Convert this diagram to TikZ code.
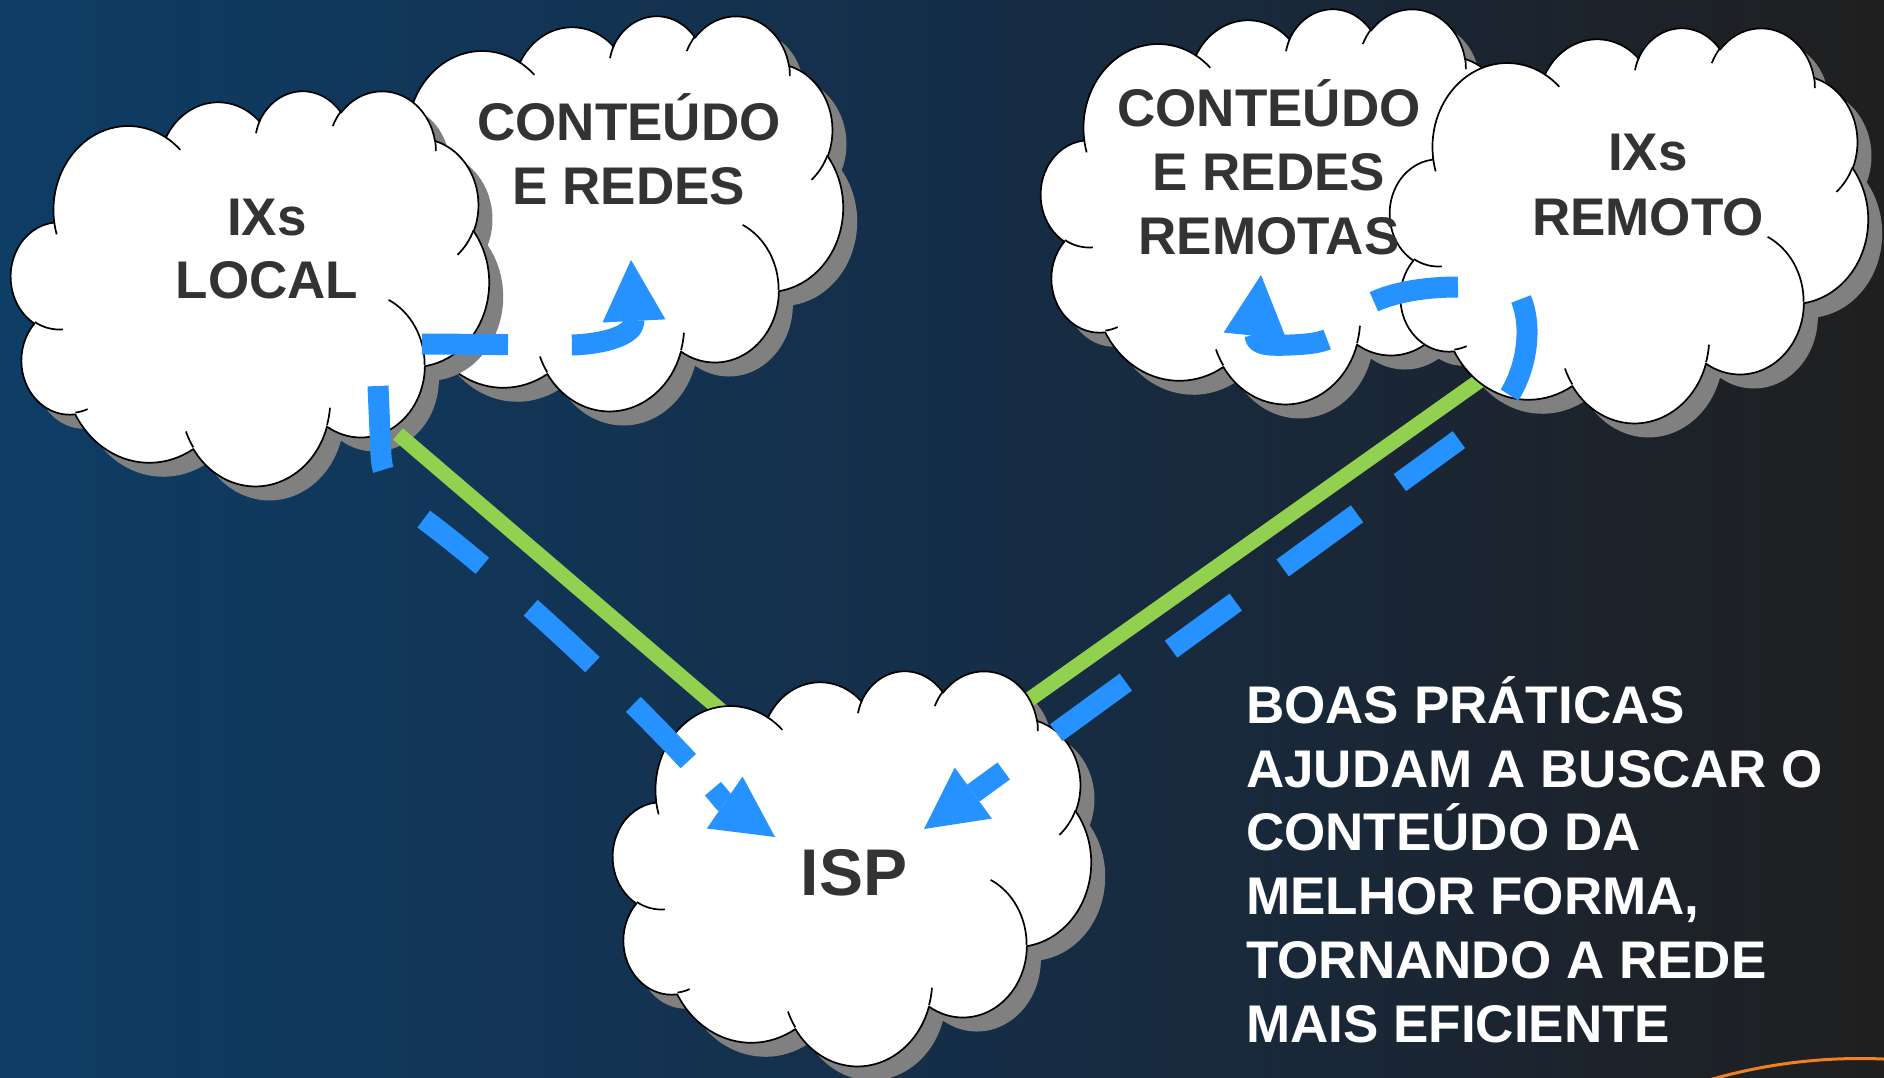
\documentclass[tikz,border=0pt]{standalone}
\usepackage{fontspec}
\setmainfont{Liberation Sans}
\usetikzlibrary{arrows.meta}

\definecolor{bgA}{RGB}{14,61,102}
\definecolor{bgB}{RGB}{21,46,72}
\definecolor{bgC}{RGB}{26,38,52}
\definecolor{bgD}{RGB}{31,31,31}
\definecolor{arrowblue}{RGB}{38,146,255}
\definecolor{linkgreen}{RGB}{146,208,80}
\definecolor{cshadow}{RGB}{128,128,128}
\definecolor{ctext}{RGB}{51,51,51}
\definecolor{orangearc}{RGB}{240,128,32}

\pgfdeclarehorizontalshading{bgshade}{100bp}{color(0bp)=(bgA); color(25bp)=(bgA); color(50bp)=(bgB); color(62.5bp)=(bgC); color(75bp)=(bgD); color(100bp)=(bgD)}

% elliptical arc, Office style: radii wR hR, visual start angle, sweep
\newcommand\oarc[4]{%
  \pgfmathparse{atan2((#1)*sin(#3),(#2)*cos(#3))}\let\cldS\pgfmathresult
  \pgfmathparse{atan2((#1)*sin((#3)+(#4)),(#2)*cos((#3)+(#4)))}\let\cldE\pgfmathresult
  \pgfmathparse{\cldE-\cldS}\let\cldD\pgfmathresult
  \pgfmathparse{ifthenelse((#4)>0, ifthenelse(\cldD<0,\cldD+360,\cldD), ifthenelse(\cldD>0,\cldD-360,\cldD))}\let\cldD\pgfmathresult
  \pgfmathparse{\cldS+\cldD}\let\cldE\pgfmathresult
  \pgfpatharcaxes{\cldS}{\cldE}{\pgfpointxy{#1}{0}}{\pgfpointxy{0}{#2}}%
}
\newcommand\cloudpathO{%
  \pgfpathmoveto{\pgfpointxy{3.900}{14.370}}%
  \oarc{6.753}{9.190}{-190.4875}{123.7805}%
  \oarc{5.333}{7.267}{-144.1024}{89.9452}%
  \oarc{4.365}{5.945}{-145.8079}{99.7230}%
  \oarc{4.857}{6.595}{-130.9861}{117.2417}%
  \oarc{5.333}{7.273}{-78.7089}{109.0269}%
  \oarc{6.775}{9.220}{-46.2673}{130.2690}%
  \oarc{5.785}{7.867}{0.6250}{114.0333}%
  \oarc{6.752}{9.215}{22.4516}{115.1726}%
  \oarc{7.720}{10.543}{66.2426}{75.7110}%
  \oarc{4.360}{5.918}{-274.9421}{146.7356}%
  \oarc{4.345}{5.945}{-246.8285}{152.5189}%
  \pgfpathclose}
\newcommand\cloudlinesO{%
  \pgfpathmoveto{\pgfpointxy{4.693}{26.177}}\oarc{4.345}{5.945}{86.7420}{26.4295}%
  \pgfpathmoveto{\pgfpointxy{6.928}{34.899}}\oarc{4.360}{5.918}{73.6105}{11.4475}%
  \pgfpathmoveto{\pgfpointxy{16.478}{39.090}}\oarc{6.752}{9.215}{137.6242}{14.0811}%
  \pgfpathmoveto{\pgfpointxy{28.827}{34.751}}\oarc{6.752}{9.215}{6.4533}{15.9984}%
  \pgfpathmoveto{\pgfpointxy{34.129}{22.954}}\oarc{5.785}{7.867}{-70.2924}{70.9174}%
  \pgfpathmoveto{\pgfpointxy{41.798}{15.354}}\oarc{5.333}{7.273}{30.3180}{27.7515}%
  \pgfpathmoveto{\pgfpointxy{38.324}{5.426}}\oarc{4.857}{6.595}{-13.7443}{14.8589}%
  \pgfpathmoveto{\pgfpointxy{29.078}{3.952}}\oarc{4.857}{6.595}{-149.1815}{18.1954}%
  \pgfpathmoveto{\pgfpointxy{22.141}{4.720}}\oarc{4.365}{5.945}{-163.4943}{17.6864}%
  \pgfpathmoveto{\pgfpointxy{14.000}{5.192}}\oarc{6.753}{9.190}{-66.7070}{12.3194}%
  \pgfpathmoveto{\pgfpointxy{4.127}{15.789}}\oarc{6.753}{9.190}{157.6544}{11.8582}%
}
\newcommand\cloudshadow[2]{%
  \begin{scope}[shift={(#1+14,#2+14)},x=11.0648pt,y=-9.1435pt]
    \pgfsetfillcolor{cshadow}\cloudpathO\pgfusepath{fill}
  \end{scope}}
\newcommand\cloudbody[2]{%
  \begin{scope}[shift={(#1,#2)},x=11.0648pt,y=-9.1435pt]
    \pgfsetfillcolor{white}\pgfsetstrokecolor{black}\pgfsetlinewidth{1.7pt}\pgfsetroundjoin
    \cloudpathO\pgfusepath{fill,stroke}
    \cloudlinesO\pgfusepath{stroke}
  \end{scope}}

\begin{document}
\begin{tikzpicture}[x=1pt,y=-1pt,
  blueflow/.style={draw=arrowblue, line width=21pt, line join=round,
    -{Triangle[length=61pt,width=63pt,line width=0pt]}},
  linkline/.style={draw=linkgreen, line width=15pt},
  cloudtext/.style={font=\fontsize{53}{64}\selectfont\bfseries, text=ctext, inner sep=0pt, anchor=base},
  bigcloudtext/.style={font=\fontsize{66}{78}\selectfont\bfseries, text=ctext, inner sep=0pt, anchor=base},
  notetext/.style={font=\fontsize{53}{64}\selectfont\bfseries, text=white, inner sep=0pt, anchor=base west}]
\useasboundingbox (0,0) rectangle (1884,1078);
\shade[shading=bgshade] (0,0) rectangle (1884,1078);

% decorative arc
\begin{scope}
  \clip (0,0) rectangle (1884,1078);
  \draw[orangearc, line width=3pt] (1860,1598.5) ++(-108:540) arc[start angle=-108, end angle=-80, radius=540];
\end{scope}

% back clouds
\cloudshadow{365}{15}\cloudbody{365}{15}
\cloudshadow{1041}{8}\cloudbody{1041}{8}
\cloudshadow{11}{90}
\cloudshadow{1390}{27}
\cloudshadow{613}{670}

% green links
\coordinate (g1a) at (398,434);
\coordinate (g1b) at (725,714);
\coordinate (g2a) at (1489,374);
\coordinate (g2b) at (1023,704);
\draw[linkline] (g1a) -- (g1b);
\draw[linkline] (g2a) -- (g2b);

% front clouds
\cloudbody{11}{90}
\cloudbody{1390}{27}
\cloudbody{613}{670}

% blue flow arrows
\coordinate (t0) at (422,344);
\coordinate (t1) at (631,260);
\draw[blueflow, dash pattern=on 86pt off 64pt on 400pt]
  (t0) -- (572,345) .. controls (605,344) and (634,335) .. (634,321) -- (t1);

\coordinate (l0) at (378,386);
\coordinate (l1) at (775,837);
\draw[blueflow, dash pattern=on 84pt off 65pt on 75pt off 64pt on 84pt off 57pt on 79pt off 37pt on 200pt]
  (l0) -- (381,455) .. controls (382,482) and (398,500) .. (425,520)
  .. controls (525,595) and (670,735) .. (724,802) -- (l1);

\coordinate (r0) at (1458,287);
\coordinate (r1) at (1261,275);
\draw[blueflow, dash pattern=on 86pt off 61pt on 300pt]
  (r0) .. controls (1405,287) and (1360,300) .. (1345,325)
  .. controls (1335,340) and (1320,344) .. (1290,345)
  .. controls (1268,346) and (1255,345) .. (1255,335) -- (r1);

\coordinate (s0) at (1521,299);
\coordinate (s1) at (924,829);
\draw[blueflow, dash pattern=on 100pt off 68pt on 73pt off 53pt on 92pt off 58pt on 80pt off 56pt on 86pt off 65pt on 200pt]
  (s0) .. controls (1536,335) and (1522,393) .. (1490,417) -- (s1);

% cloud labels
\node[cloudtext] (ixl1) at (267,235.5) {IXs};
\node[cloudtext] (ixl2) at (267,298.5) {LOCAL};
\node[cloudtext] (cr1) at (629,141) {CONTEÚDO};
\node[cloudtext] (cr2) at (629,204.5) {E REDES};
\node[cloudtext] (crr1) at (1269,126.5) {CONTEÚDO};
\node[cloudtext] (crr2) at (1269,190.5) {E REDES};
\node[cloudtext] (crr3) at (1269,254) {REMOTAS};
\node[cloudtext] (ixr1) at (1648,171) {IXs};
\node[cloudtext] (ixr2) at (1648,235) {REMOTO};
\node[bigcloudtext] (isp) at (854,895.5) {ISP};

% note
\node[notetext] (n1) at (1246,723) {BOAS PRÁTICAS};
\node[notetext] (n2) at (1246,787) {AJUDAM A BUSCAR O};
\node[notetext] (n3) at (1246,850) {CONTEÚDO DA};
\node[notetext] (n4) at (1246,914) {MELHOR FORMA,};
\node[notetext] (n5) at (1246,978) {TORNANDO A REDE};
\node[notetext] (n6) at (1246,1042) {MAIS EFICIENTE};
\end{tikzpicture}
\end{document}
